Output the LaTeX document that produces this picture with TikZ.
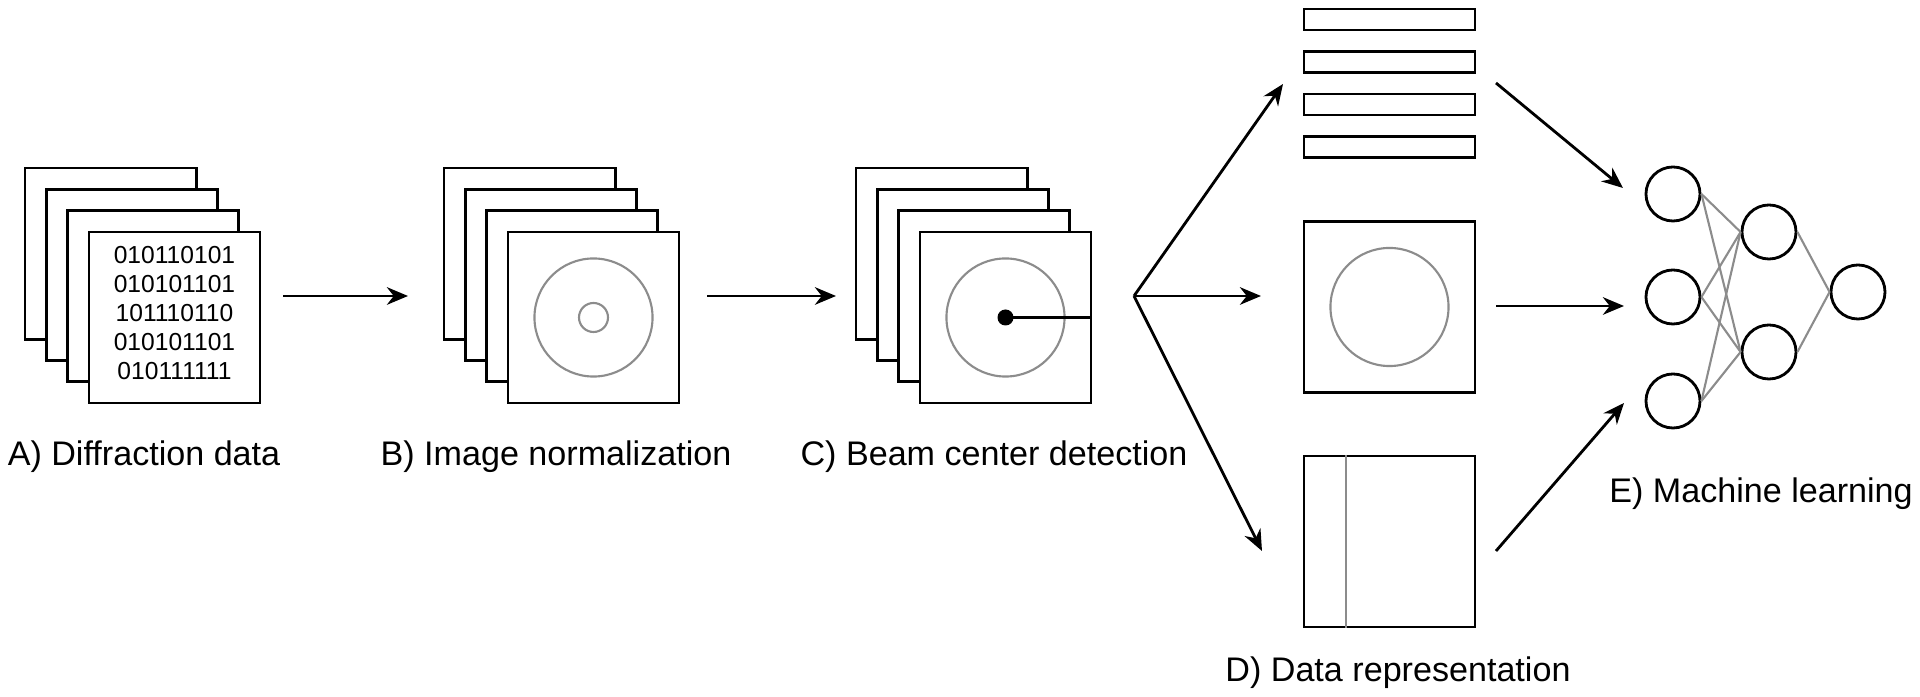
\documentclass[tikz,border=0pt]{standalone}
\usepackage{fontspec}
\setmainfont{Liberation Sans}
\usetikzlibrary{arrows.meta}
\begin{document}
\begin{tikzpicture}[x=0.01cm,y=0.01cm]
\def\decal{21.3}
\tikzstyle{cadre}=[draw,fill=white,line width=0.8pt,minimum size=1.71cm,inner sep=0pt]
\tikzstyle{bande}=[draw,line width=0.8pt,minimum width=1.71cm,minimum height=0.21cm,inner sep=0pt]
\tikzstyle{anneau}=[circle,draw=black!45,line width=0.6pt,inner sep=0pt]
\tikzstyle{neurone}=[circle,draw,line width=0.8pt,minimum size=0.54cm,inner sep=0pt]
\tikzstyle{fleche}=[-{Stealth[length=6pt,width=5pt]},line width=0.8pt]
\tikzstyle{trait}=[black!45,line width=0.6pt]
\tikzstyle{titre}=[font=\fontsize{9.7}{11.6}\selectfont]
\useasboundingbox (0,0) rectangle (1920,697);

% A) Donnees
\foreach \i in {3,2,1,0}
  \node[cadre] (A\i) at ({174.5-\decal*\i},{379.5+\decal*\i}) {};
\node[align=center,font=\fontsize{7}{8.2}\selectfont] (bits) at (174.5,384)
  {010110101\\010101101\\101110110\\010101101\\010111111};
\node[titre] (tA) at (144,240) {A) Diffraction data};

% B) Normalisation
\foreach \i in {3,2,1,0}
  \node[cadre] (B\i) at ({593.5-\decal*\i},{379.5+\decal*\i}) {};
\node[anneau,minimum size=1.18cm] (Bext) at (B0) {};
\node[anneau,minimum size=0.29cm] (Bint) at (B0) {};
\node[titre] (tB) at (556,240) {B) Image normalization};

% C) Centre du faisceau
\foreach \i in {3,2,1,0}
  \node[cadre] (C\i) at ({1005.5-\decal*\i},{379.5+\decal*\i}) {};
\node[anneau,minimum size=1.18cm] (Cext) at (C0) {};
\node[circle,fill,minimum size=0.16cm,inner sep=0pt] (pt) at (C0) {};
\draw[line width=0.8pt] (pt.center) -- (C0.east);
\node[titre] (tC) at (994,240) {C) Beam center detection};

\coordinate (dAB) at (283,401); \coordinate (fAB) at (408,401);
\coordinate (dBC) at (707,401); \coordinate (fBC) at (836,401);
\draw[fleche] (dAB) -- (fAB);
\draw[fleche] (dBC) -- (fBC);

% D) Representations
\foreach \y/\n in {677.5/1,635/2,592.5/3,550/4}
  \node[bande] (S\n) at (1389.5,\y) {};
\node[cadre] (Dm) at (1389.5,390) {};
\node[anneau,minimum size=1.18cm] (Dext) at (Dm) {};
\node[cadre] (Db) at (1389.5,155.5) {};
\draw[trait] ([xshift=0.43cm]Db.north west) -- ([xshift=0.43cm]Db.south west);
\node[titre] (tD) at (1398,24) {D) Data representation};

\coordinate (fourche) at (1134,401);
\coordinate (fS) at (1283,613);
\coordinate (fDm) at (1261,401);
\coordinate (fDb) at (1262,146);
\draw[fleche] (fourche) -- (fS);
\draw[fleche] (fourche) -- (fDm);
\draw[fleche] (fourche) -- (fDb);

% E) Reseau
\node[neurone] (e1) at (1673,503) {};
\node[neurone] (e2) at (1673,400) {};
\node[neurone] (e3) at (1673,296) {};
\node[neurone] (c1) at (1769,465) {};
\node[neurone] (c2) at (1769,345) {};
\node[neurone] (s) at (1858,405) {};
\foreach \a in {1,2,3}
  \foreach \b in {1,2}
    \draw[trait] (e\a.east) -- (c\b.west);
\foreach \b in {1,2}
  \draw[trait] (c\b.east) -- (s.west);
\node[titre] (tE) at (1761,203) {E) Machine learning};

\coordinate (dS) at (1496,614); \coordinate (fE1) at (1623,509);
\coordinate (dDm) at (1496,391); \coordinate (fE2) at (1624,391);
\coordinate (dDb) at (1496,146); \coordinate (fE3) at (1624,294);
\draw[fleche] (dS) -- (fE1);
\draw[fleche] (dDm) -- (fE2);
\draw[fleche] (dDb) -- (fE3);

\end{tikzpicture}
\end{document}
